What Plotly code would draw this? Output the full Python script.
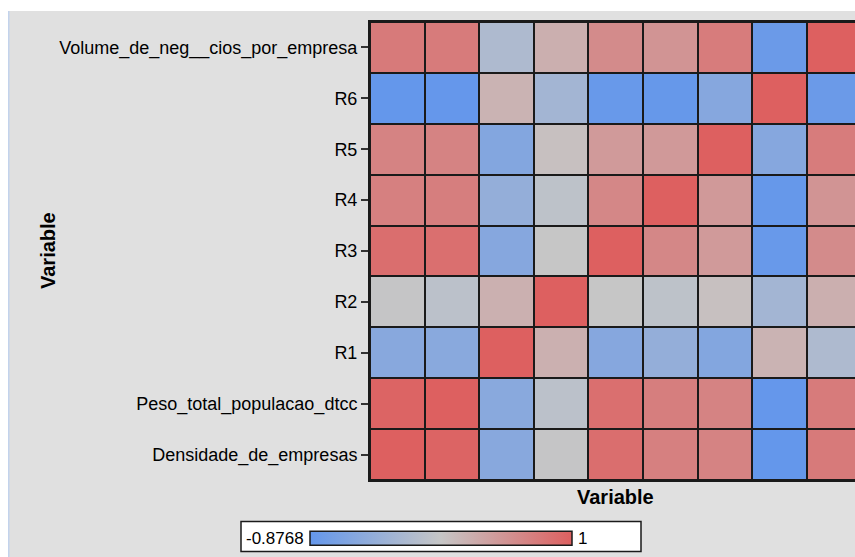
import plotly.graph_objects as go

# Variables of the correlation matrix (bottom-to-top on the y axis, left-to-right on x)
variables = [
    "Densidade_de_empresas",
    "Peso_total_populacao_dtcc",
    "R1",
    "R2",
    "R3",
    "R4",
    "R5",
    "R6",
    "Volume_de_neg__cios_por_empresa",
]

# Pearson correlations, one row per variable (same order as `variables`)
r_densidade = [1.00, 0.96, -0.53, 0.05, 0.87, 0.71, 0.68, -0.8768, 0.76]
r_peso      = [0.96, 1.00, -0.52, -0.04, 0.86, 0.72, 0.68, -0.87, 0.75]
r_r1        = [-0.53, -0.52, 1.00, 0.26, -0.55, -0.42, -0.58, 0.24, -0.17]
r_r2        = [0.05, -0.04, 0.26, 1.00, 0.06, -0.02, 0.12, -0.27, 0.27]
r_r3        = [0.87, 0.86, -0.55, 0.06, 1.00, 0.64, 0.47, -0.84, 0.60]
r_r4        = [0.71, 0.72, -0.42, -0.02, 0.64, 1.00, 0.48, -0.86, 0.52]
r_r5        = [0.68, 0.68, -0.58, 0.12, 0.47, 0.48, 1.00, -0.55, 0.74]
r_r6        = [-0.8768, -0.87, 0.24, -0.27, -0.84, -0.86, -0.55, 1.00, -0.81]
r_volume    = [0.76, 0.75, -0.17, 0.27, 0.60, 0.52, 0.74, -0.81, 1.00]

corr_rows = [r_densidade, r_peso, r_r1, r_r2, r_r3, r_r4, r_r5, r_r6, r_volume]

zmin = min(min(r) for r in corr_rows)
zmax = max(max(r) for r in corr_rows)

# Three-colour ramp: blue -> neutral grey -> red
ramp = [[0.0, "#6497EB"], [0.5, "#C6C6C6"], [1.0, "#DD6060"]]

FONT = "Liberation Sans, Arial, sans-serif"
W, H = 855, 557
L, R, T, B = 370, 0, 22, 77
PW, PH = W - L - R, H - T - B


def px(x):
    """Figure pixel x -> paper fraction."""
    return (x - L) / PW


def py(y):
    """Figure pixel y (from top) -> paper fraction."""
    return (H - B - y) / PH


fig = go.Figure(
    go.Heatmap(
        z=corr_rows,
        x=variables,
        y=variables,
        zmin=zmin,
        zmax=zmax,
        colorscale=ramp,
        xgap=2,
        ygap=2,
        colorbar=dict(
            orientation="h",
            x=px(441),
            y=py(539),
            xanchor="center",
            yanchor="middle",
            lenmode="pixels",
            len=262,
            thicknessmode="pixels",
            thickness=14,
            outlinewidth=1.5,
            outlinecolor="#1a1a1a",
            showticklabels=False,
            ticks="",
            xpad=0,
            ypad=0,
        ),
        hovertemplate="%{y} / %{x}: %{z:.4f}<extra></extra>",
    )
)

shapes = [
    # white page strip on top and left, with thin blue rule
    dict(type="rect", xref="paper", yref="paper", x0=px(0), x1=px(W), y0=py(11), y1=py(0),
         fillcolor="white", line_width=0, layer="below"),
    dict(type="rect", xref="paper", yref="paper", x0=px(0), x1=px(8), y0=py(H), y1=py(0),
         fillcolor="white", line_width=0, layer="below"),
    dict(type="rect", xref="paper", yref="paper", x0=px(8), x1=px(9.5), y0=py(H), y1=py(11),
         fillcolor="#C3D3EC", line_width=0, layer="below"),
    # legend frame
    dict(type="rect", xref="paper", yref="paper", x0=px(241), x1=px(641), y0=py(551.5), y1=py(521.5),
         fillcolor="white", line=dict(color="#1a1a1a", width=1.5), layer="below"),
]

annotations = [
    dict(text="<b>Variable</b>", xref="paper", yref="paper", x=px(615), y=py(497),
         xanchor="center", yanchor="middle", showarrow=False,
         font=dict(family=FONT, size=20, color="black")),
    dict(text="<b>Variable</b>", xref="paper", yref="paper", x=px(48), y=py(251),
         xanchor="center", yanchor="middle", showarrow=False, textangle=-90,
         font=dict(family=FONT, size=20, color="black")),
    dict(text=f"{zmin:.4f}", xref="paper", yref="paper", x=px(306), y=py(538.5),
         xanchor="right", yanchor="middle", showarrow=False,
         font=dict(family=FONT, size=17, color="black")),
    dict(text=f"{zmax:g}", xref="paper", yref="paper", x=px(576), y=py(538.5),
         xanchor="left", yanchor="middle", showarrow=False,
         font=dict(family=FONT, size=17, color="black")),
]

fig.update_layout(
    width=W,
    height=H,
    margin=dict(l=L, r=R, t=T, b=B, pad=0),
    paper_bgcolor="#E0E0E0",
    plot_bgcolor="#1a1a1a",
    font=dict(family=FONT, size=16, color="black"),
    shapes=shapes,
    annotations=annotations,
    xaxis=dict(
        range=[-0.5, 8.385],
        showticklabels=False,
        ticks="",
        showgrid=False,
        zeroline=False,
        showline=True,
        linecolor="#1a1a1a",
        linewidth=2,
        mirror=True,
        fixedrange=True,
    ),
    yaxis=dict(
        range=[-0.5, 8.5],
        ticks="outside",
        ticklen=7,
        tickwidth=1.5,
        tickcolor="#333333",
        ticklabelstandoff=0,
        tickfont=dict(family=FONT, size=18, color="black"),
        showgrid=False,
        zeroline=False,
        showline=True,
        linecolor="#1a1a1a",
        linewidth=2,
        fixedrange=True,
    ),
)

fig.write_html("out.html")
